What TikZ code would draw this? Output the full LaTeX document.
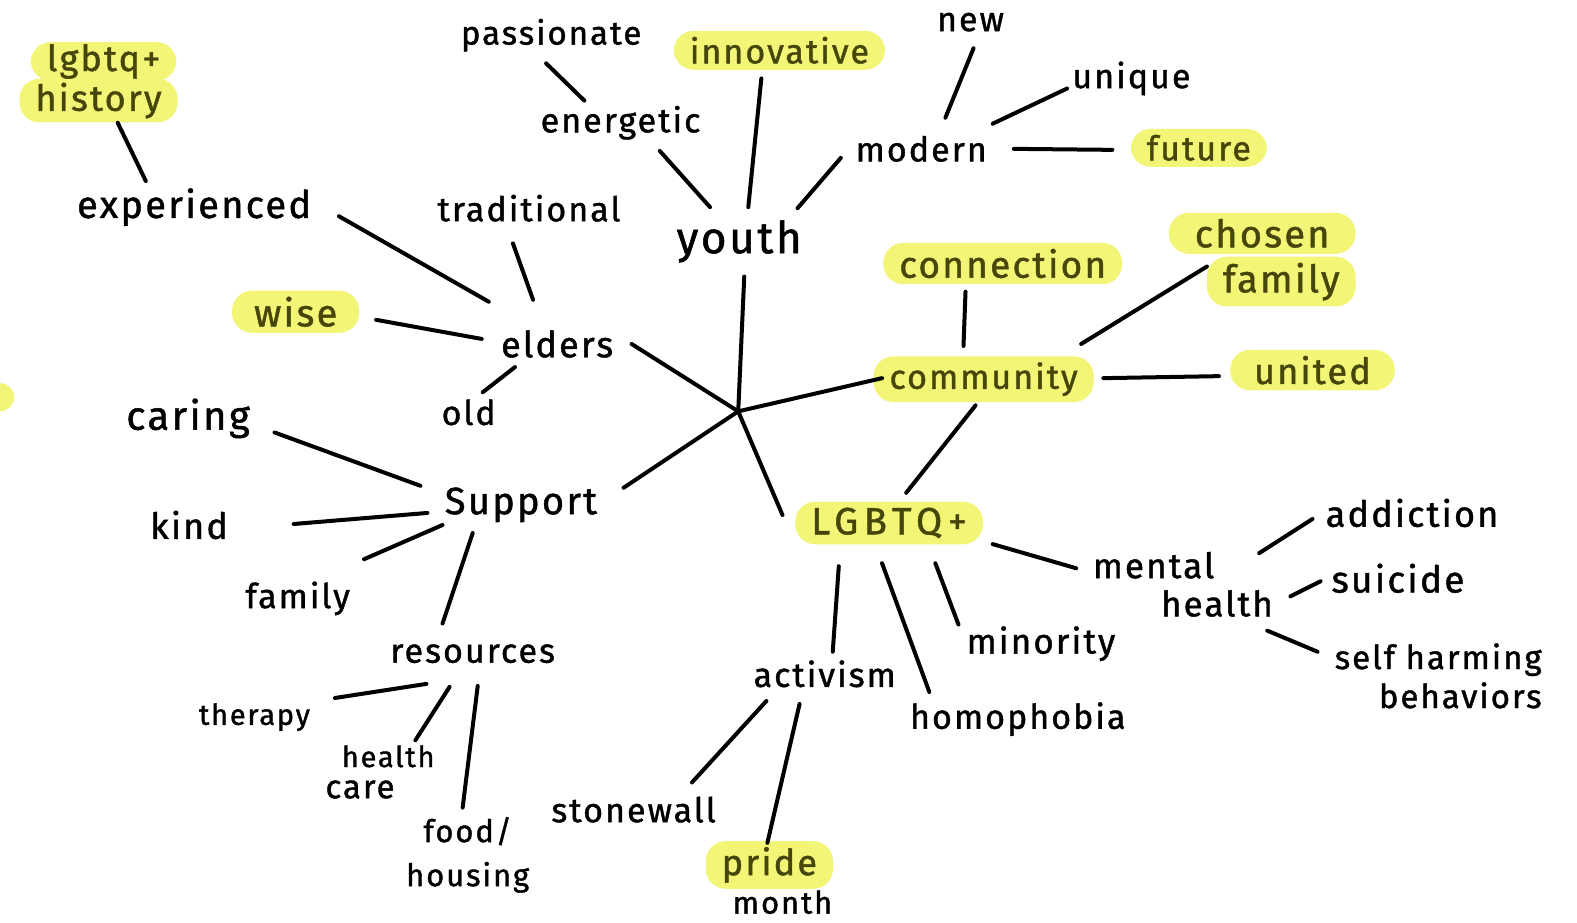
\documentclass[tikz,border=0pt]{standalone}
\usepackage{fontspec}
\setmainfont{Fira Sans}[FakeBold=1.2,LetterSpace=6]
\usetikzlibrary{calc}
\definecolor{hly}{RGB}{242,245,118}
\definecolor{hlt}{RGB}{70,70,10}
\begin{document}
\begin{tikzpicture}[x=1.0057pt,y=-1.0057pt,
  w/.style={inner sep=3pt,font=\fontsize{34}{40}\selectfont},
  sz/.style={font=\fontsize{#1}{#1}\selectfont},
  hl/.style={w,fill=hly,rounded corners=20pt,text=hlt,inner xsep=16pt,inner ysep=6pt},
  ln/.style={line width=4pt,line cap=round}]
\useasboundingbox (0,0) rectangle (1568,917);
\fill[white] (0,0) rectangle (1568,917);
\fill[hly] (0,395) circle (14);
% nodes
\node[w,sz=33] (passionate) at (548,35) {passionate};
\node[hl] (innovative) at (775,50) {innovative};
\node[w] (new) at (965,22) {new};
\node[w] (unique) at (1125,78) {unique};
\node[hl,sz=36,inner ysep=4pt] (history) at (98,100) {history};
\node[hl,sz=36,inner ysep=2pt] (lgbtq) at (103,61) {lgbtq+};
\node[w] (energetic) at (617,122) {energetic};
\node[w] (modern) at (916,148) {modern};
\node[hl] (future) at (1192,147) {future};
\node[w,sz=38] (experienced) at (193,206) {experienced};
\node[w] (traditional) at (526,207) {traditional};
\node[w,sz=44] (youth) at (735,240) {youth};
\node[hl,sz=37] (connection) at (997,262) {connection};
\node[hl,sz=38,inner xsep=26pt] (chosen) at (1255,232) {chosen};
\node[hl,sz=38] (cfamily) at (1274,280) {family};
\node[hl,sz=38,inner xsep=22pt] (wise) at (294,310) {wise};
\node[w,sz=36] (elders) at (554,342) {elders};
\node[hl] (community) at (978,377) {community};
\node[hl,sz=36,inner xsep=24pt] (united) at (1305,368) {united};
\node[w] (old) at (466,410) {old};
\node[w,sz=40] (caring) at (187,416) {caring};
\node[w,sz=38] (support) at (518,502) {Support};
\node[hl,font=\fontsize{38}{40}\selectfont\addfontfeature{LetterSpace=15}] (lgbtqp) at (884,520) {LGBTQ+};
\node[w,sz=36] (addiction) at (1404,510) {addiction};
\node[w,sz=36] (kind) at (188,522) {kind};
\node[w,sz=35] (mental) at (1147,562) {mental};
\node[w,sz=35] (health) at (1210,600) {health};
\node[w,sz=37] (suicide) at (1390,575) {suicide};
\node[w] (family) at (296,595) {family};
\node[w,sz=35] (minority) at (1035,640) {minority};
\node[w,align=right,font=\fontsize{33}{39}\selectfont] (selfharm) at (1430,672) {self harming\\behaviors};
\node[w] (resources) at (470,650) {resources};
\node[w] (activism) at (820,670) {activism};
\node[w,sz=29] (therapy) at (253,713) {therapy};
\node[w] (homophobia) at (1012,715) {homophobia};
\node[w,sz=29] (hcone) at (386,752) {health};
\node[w,sz=33] (hctwo) at (358,785) {care};
\node[w] (stonewall) at (630,805) {stonewall};
\node[w,align=center,font=\fontsize{31}{44}\selectfont] (food) at (465,850) {food/\\housing};
\node[hl,sz=36] (pride) at (765,860) {pride};
\node[w,sz=31] (month) at (778,897) {month};
\coordinate (hub) at (734,409);
% connectors
\draw[ln] (hub) -- ($(youth)+(5,35)$);
\draw[ln] (hub) -- ($(elders)+(74,0)$);
\draw[ln] (hub) -- ($(community)+(-101,-1)$);
\draw[ln] (hub) -- ($(support)+(102,-17)$);
\draw[ln] (hub) -- ($(lgbtqp)+(-106,-8)$);
\draw[ln] ($(passionate)+(-5,28)$) -- ($(energetic)+(-36,-22)$);
\draw[ln] ($(energetic)+(39,28)$) -- ($(youth)+(-29,-34)$);
\draw[ln] ($(innovative)+(-18,28)$) -- ($(youth)+(9,-34)$);
\draw[ln] ($(modern)+(-80,9)$) -- ($(youth)+(58,-33)$);
\draw[ln] ($(new)+(3,26)$) -- ($(modern)+(24,-31)$);
\draw[ln] ($(unique)+(-64,10)$) -- ($(modern)+(71,-25)$);
\draw[ln] ($(modern)+(92,0)$) -- ($(future)+(-86,2)$);
\draw[ln] ($(history)+(19,22)$) -- ($(experienced)+(-48,-26)$);
\draw[ln] ($(experienced)+(144,9)$) -- ($(elders)+(-68,-42)$);
\draw[ln] ($(traditional)+(-16,35)$) -- ($(elders)+(-24,-44)$);
\draw[ln] ($(wise)+(80,8)$) -- ($(elders)+(-75,-5)$);
\draw[ln] ($(old)+(14,-20)$) -- ($(elders)+(-42,23)$);
\draw[ln] ($(connection)+(-37,28)$) -- ($(community)+(-20,-33)$);
\draw[ln] ($(cfamily)+(-74,-15)$) -- ($(community)+(97,-35)$);
\draw[ln] ($(community)+(119,-1)$) -- ($(united)+(-93,6)$);
\draw[ln] ($(community)+(-8,26)$) -- ($(lgbtqp)+(17,-30)$);
\draw[ln] ($(caring)+(86,14)$) -- ($(support)+(-100,-19)$);
\draw[ln] ($(kind)+(104,-1)$) -- ($(support)+(-93,8)$);
\draw[ln] ($(family)+(66,-39)$) -- ($(support)+(-78,20)$);
\draw[ln] ($(resources)+(-30,-30)$) -- ($(support)+(-48,28)$);
\draw[ln] ($(lgbtqp)+(103,21)$) -- ($(mental)+(-77,3)$);
\draw[ln] ($(health)+(42,-50)$) -- ($(addiction)+(-99,6)$);
\draw[ln] ($(health)+(73,-7)$) -- ($(suicide)+(-77,3)$);
\draw[ln] ($(health)+(50,27)$) -- ($(selfharm)+(-120,-24)$);
\draw[ln] ($(lgbtqp)+(-50,43)$) -- ($(activism)+(8,-22)$);
\draw[ln] ($(lgbtqp)+(-7,40)$) -- ($(homophobia)+(-88,-27)$);
\draw[ln] ($(lgbtqp)+(46,40)$) -- ($(minority)+(-82,-19)$);
\draw[ln] ($(activism)+(-58,27)$) -- ($(stonewall)+(58,-27)$);
\draw[ln] ($(activism)+(-25,30)$) -- ($(pride)+(-2,-22)$);
\draw[ln] ($(resources)+(-46,30)$) -- ($(therapy)+(80,-19)$);
\draw[ln] ($(resources)+(-23,33)$) -- ($(hcone)+(27,-16)$);
\draw[ln] ($(resources)+(5,32)$) -- ($(food)+(-5,-47)$);
\end{tikzpicture}
\end{document}
